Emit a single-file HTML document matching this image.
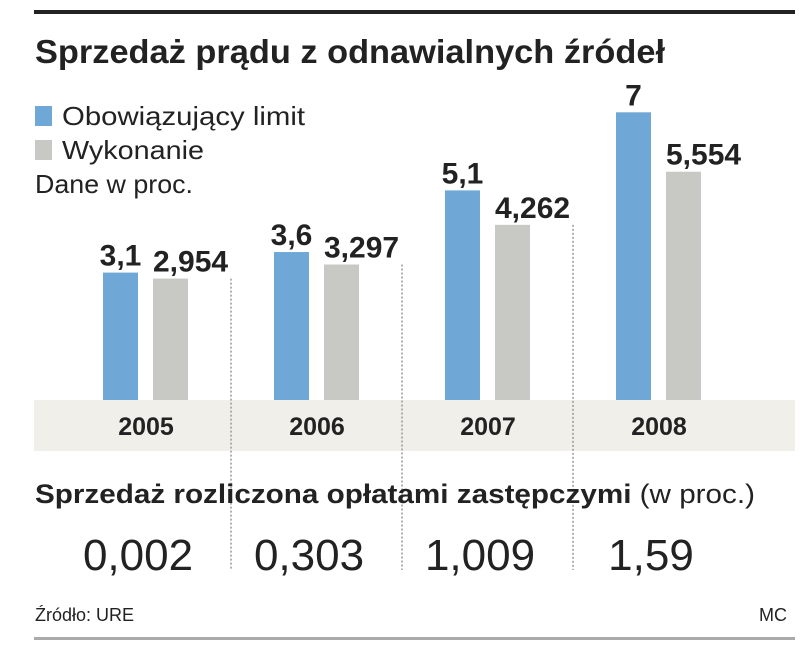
<!DOCTYPE html>
<html><head><meta charset="utf-8"><style>
body{margin:0;background:#fff;width:805px;height:660px;overflow:hidden}
svg{display:block}
text{font-family:"Liberation Sans",sans-serif}
</style></head><body>
<svg width="805" height="660">
<rect x="34" y="10" width="761" height="4" fill="#222"/>
<text x="35" y="63" font-size="33" font-weight="bold" fill="#222" textLength="630" lengthAdjust="spacingAndGlyphs">Sprzedaż prądu z odnawialnych źródeł</text>
<rect x="35" y="106" width="17" height="20" fill="#6fa8d6"/>
<text x="62" y="125" font-size="26" fill="#222" textLength="243" lengthAdjust="spacingAndGlyphs">Obowiązujący limit</text>
<rect x="35" y="140" width="17" height="20" fill="#c8c8c4"/>
<text x="62" y="159" font-size="26" fill="#222" textLength="142" lengthAdjust="spacingAndGlyphs">Wykonanie</text>
<text x="35" y="193" font-size="26" fill="#222" textLength="158" lengthAdjust="spacingAndGlyphs">Dane w proc.</text>
<rect x="34" y="400" width="761" height="51" fill="#f1efe9"/>
<g id="seps"></g>
<g id="bars"></g>
<text x="35" y="503" font-size="27" font-weight="bold" fill="#222" textLength="720" lengthAdjust="spacingAndGlyphs">Sprzedaż rozliczona opłatami zastępczymi <tspan font-weight="normal">(w proc.)</tspan></text>
<g id="subs"></g>
<text x="35" y="621" font-size="18" fill="#222">Źródło: URE</text>
<text x="787" y="621" font-size="18" fill="#222" text-anchor="end">MC</text>
<rect x="34" y="637" width="761" height="3" fill="#aaa"/>
</svg>
<script>
const years=["2005","2006","2007","2008"];
const limitVals=[3.1,3.6,5.1,7];
const wykonanieVals=[2.954,3.297,4.262,5.554];
const limitLabels=["3,1","3,6","5,1","7"];
const wykonanieLabels=["2,954","3,297","4,262","5,554"];
const oplatyLabels=["0,002","0,303","1,009","1,59"];
const NS="http://www.w3.org/2000/svg";
const base=400,unit=41.1,x0=103,step=171,bw=35;
const y=v=>base-v*unit;
function mk(tag,attrs,parent,txt){const e=document.createElementNS(NS,tag);for(const k in attrs)e.setAttribute(k,attrs[k]);if(txt!==undefined)e.textContent=txt;parent.appendChild(e);return e;}
const bars=document.getElementById('bars'),seps=document.getElementById('seps'),subs=document.getElementById('subs');
years.forEach((yr,i)=>{
 const xb=x0+i*step,xg=xb+50;
 let r=mk('rect',{x:xb,y:y(limitVals[i]),width:bw,height:limitVals[i]*unit,fill:'#6fa8d6'},bars);
 
 
 r=mk('rect',{x:xg,y:y(wykonanieVals[i]),width:bw,height:wykonanieVals[i]*unit,fill:'#c8c8c4'},bars);
 
 
 let t=mk('text',{x:xb+bw/2,y:y(limitVals[i])-7,'font-size':30,'font-weight':'bold','text-anchor':'middle',fill:'#222'},bars,limitLabels[i]);
 
 
 t=mk('text',{x:xg,y:y(wykonanieVals[i])-7,'font-size':30,'font-weight':'bold',fill:'#222'},bars,wykonanieLabels[i]);
 
 
 t=mk('text',{x:xb+43,y:435,'font-size':25,'font-weight':'bold','text-anchor':'middle',fill:'#222'},bars,yr);
 
 
 t=mk('text',{x:xb+35,y:570,'font-size':44,'text-anchor':'middle',fill:'#222'},subs,oplatyLabels[i]);
 
 
 if(i<years.length-1){
  const sx=x0+i*step+128;
  const top=y(wykonanieVals[i]);
  const l=mk('line',{x1:sx,x2:sx,y1:top,y2:570,stroke:'#999','stroke-width':1.5,'stroke-dasharray':'2,2'},seps);
  
  
 }
});
</script>
</body></html>
